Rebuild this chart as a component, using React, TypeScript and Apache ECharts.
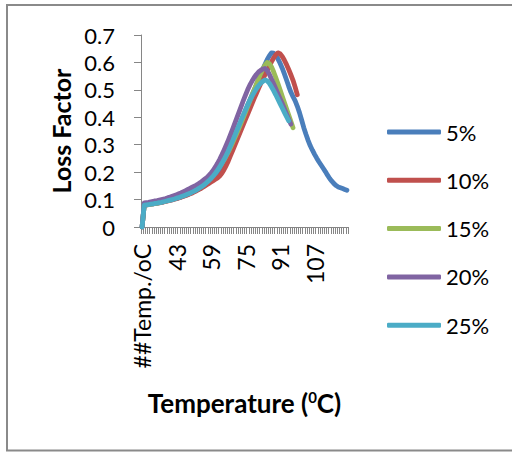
import React, { useEffect, useRef } from "react";
import * as echarts from "echarts";

const categories = [
  "##Temp./oC",
  "28", "29", "30", "31", "32", "33", "34", "35", "36", "37",
  "38", "39", "40", "41", "42", "43", "44", "45", "46", "47",
  "48", "49", "50", "51", "52", "53", "54", "55", "56", "57",
  "58", "59", "60", "61", "62", "63", "64", "65", "66", "67",
  "68", "69", "70", "71", "72", "73", "74", "75", "76", "77",
  "78", "79", "80", "81", "82", "83", "84", "85", "86", "87",
  "88", "89", "90", "91", "92", "93", "94", "95", "96", "97",
  "98", "99", "100", "101", "102", "103", "104", "105", "106", "107",
  "108", "109", "110", "111", "112", "113", "114", "115", "116", "117",
  "118", "119", "120", "121", "122",
];

const yTicks = [0, 0.1, 0.2, 0.3, 0.4, 0.5, 0.6, 0.7];

const legendNames = ["5%", "10%", "15%", "20%", "25%"];

const s5 = [
  0,
  0.080, 0.081, 0.082, 0.083, 0.084, 0.086, 0.087, 0.089, 0.090, 0.092,
  0.094, 0.096, 0.098, 0.100, 0.102, 0.104, 0.107, 0.109, 0.112, 0.115,
  0.118, 0.121, 0.125, 0.129, 0.133, 0.137, 0.142, 0.147, 0.152, 0.158,
  0.165, 0.172, 0.180, 0.189, 0.199, 0.210, 0.222, 0.235, 0.249, 0.264,
  0.295, 0.313, 0.332, 0.351, 0.370, 0.389, 0.408, 0.427, 0.446, 0.464,
  0.482, 0.500, 0.518, 0.537, 0.556, 0.575, 0.593, 0.610, 0.624, 0.635,
  0.634, 0.626, 0.613, 0.597, 0.579, 0.558, 0.536, 0.513, 0.492, 0.475,
  0.460, 0.440, 0.417, 0.390, 0.362, 0.338, 0.316, 0.296, 0.280, 0.265,
  0.251, 0.238, 0.226, 0.214, 0.202, 0.189, 0.177, 0.167, 0.158, 0.151,
  0.146, 0.143, 0.140, 0.137, 0.134,
];

const s10 = [
  0,
  0.080, 0.081, 0.082, 0.083, 0.084, 0.085, 0.087, 0.088, 0.090, 0.091,
  0.093, 0.095, 0.097, 0.099, 0.101, 0.103, 0.106, 0.108, 0.111, 0.114,
  0.117, 0.120, 0.123, 0.127, 0.131, 0.135, 0.139, 0.144, 0.149, 0.154,
  0.159, 0.164, 0.169, 0.174, 0.179, 0.186, 0.196, 0.209, 0.224, 0.241,
  0.260, 0.279, 0.298, 0.317, 0.336, 0.355, 0.374, 0.393, 0.412, 0.431,
  0.450, 0.469, 0.487, 0.505, 0.522, 0.539, 0.555, 0.571, 0.587, 0.602,
  0.616, 0.628, 0.635, 0.632, 0.622, 0.608, 0.592, 0.574, 0.555, 0.535,
  0.510, 0.482,
];

const s15 = [
  0,
  0.080, 0.081, 0.082, 0.083, 0.084, 0.086, 0.087, 0.089, 0.091, 0.093,
  0.095, 0.097, 0.099, 0.102, 0.104, 0.107, 0.110, 0.113, 0.116, 0.119,
  0.123, 0.127, 0.131, 0.135, 0.139, 0.144, 0.149, 0.155, 0.161, 0.167,
  0.174, 0.182, 0.190, 0.199, 0.209, 0.220, 0.232, 0.245, 0.259, 0.274,
  0.290, 0.307, 0.325, 0.343, 0.362, 0.381, 0.400, 0.420, 0.440, 0.460,
  0.480, 0.500, 0.520, 0.540, 0.559, 0.576, 0.590, 0.600,
  0.596, 0.584, 0.566, 0.545, 0.523, 0.500, 0.477, 0.454, 0.431, 0.408,
  0.385, 0.362,
];

const s20 = [
  0,
  0.088, 0.089, 0.090, 0.092, 0.093, 0.095, 0.096, 0.098, 0.100, 0.102,
  0.104, 0.107, 0.109, 0.112, 0.115, 0.118, 0.121, 0.124, 0.128, 0.132,
  0.136, 0.140, 0.144, 0.148, 0.152, 0.157, 0.162, 0.168, 0.174, 0.180,
  0.188, 0.197, 0.207, 0.219, 0.232, 0.247, 0.263, 0.280, 0.298, 0.317,
  0.337, 0.357, 0.378, 0.399, 0.420, 0.441, 0.462, 0.482, 0.501, 0.518,
  0.532, 0.545, 0.556, 0.565, 0.571, 0.576, 0.578,
  0.571, 0.557, 0.540, 0.522, 0.504, 0.486, 0.468, 0.450, 0.431, 0.412,
  0.393, 0.375,
];

const s25 = [
  0,
  0.080, 0.081, 0.082, 0.083, 0.084, 0.086, 0.087, 0.089, 0.090, 0.092,
  0.094, 0.096, 0.098, 0.100, 0.102, 0.105, 0.107, 0.110, 0.113, 0.116,
  0.119, 0.122, 0.126, 0.130, 0.134, 0.139, 0.144, 0.149, 0.155, 0.162,
  0.169, 0.177, 0.186, 0.196, 0.207, 0.219, 0.232, 0.246, 0.261, 0.277,
  0.296, 0.314, 0.333, 0.352, 0.371, 0.390, 0.409, 0.427, 0.445, 0.462,
  0.477, 0.491, 0.504, 0.515, 0.524, 0.531, 0.536,
  0.533, 0.524, 0.511, 0.497, 0.482, 0.466, 0.450, 0.434, 0.418, 0.402,
  0.387,
];

const seriesData = [s5, s10, s15, s20, s25];
const colors = ["#4A7EBB", "#C0504D", "#9BBB59", "#8064A2", "#4BACC6"];

const FONT = "Lato";

export default function App() {
  const ref = useRef<HTMLDivElement>(null);
  useEffect(() => {
    if (!ref.current) return;
    const chart = echarts.init(ref.current, undefined, { renderer: "svg" });
    chart.setOption({
      animation: false,
      color: colors,
      graphic: [
        {
          type: "rect",
          shape: { x: 7, y: 5, width: 530, height: 445.5 },
          style: { fill: "none", stroke: "#8a8a8a", lineWidth: 2 },
          silent: true,
        },
      ],
      grid: { left: 141, top: 35, width: 207, height: 192, containLabel: false },
      legend: {
        orient: "vertical",
        left: 387,
        top: 120,
        padding: 0,
        itemWidth: 54,
        itemHeight: 5,
        itemGap: 24.3,
        icon: "roundRect",
        data: legendNames,
        textStyle: { fontFamily: FONT, fontSize: 22, color: "#000", lineHeight: 24 },
      },
      xAxis: {
        type: "category",
        data: categories,
        boundaryGap: true,
        name: "{a|Temperature (}{b|0}{a|C)}",
        nameLocation: "middle",
        nameGap: 162,
        nameTextStyle: {
          rich: {
            a: { fontFamily: FONT, fontSize: 26, fontWeight: "bold", color: "#000", lineHeight: 28 },
            b: { fontFamily: FONT, fontSize: 15, fontWeight: "bold", color: "#000", verticalAlign: "top", lineHeight: 15 },
          },
        },
        axisLine: { lineStyle: { color: "#868686", width: 1 } },
        axisTick: { show: true, interval: 0, length: 7, alignWithLabel: false, lineStyle: { color: "#868686" } },
        axisLabel: {
          interval: 15,
          rotate: 90,
          margin: 17,
          fontFamily: FONT,
          fontSize: 23,
          color: "#000",
        },
        splitLine: { show: false },
      },
      yAxis: {
        type: "value",
        min: yTicks[0],
        max: yTicks[yTicks.length - 1],
        interval: 0.1,
        name: "Loss Factor",
        nameLocation: "middle",
        nameGap: 68,
        nameTextStyle: { fontFamily: FONT, fontSize: 25, fontWeight: "bold", color: "#000" },
        axisLine: { show: true, lineStyle: { color: "#868686", width: 1 } },
        axisTick: { show: true, length: 7, lineStyle: { color: "#868686" } },
        axisLabel: {
          margin: 26,
          fontFamily: FONT,
          fontSize: 22,
          color: "#000",
          formatter: (v: number) => String(Math.round(v * 10) / 10),
        },
        splitLine: { show: false },
      },
      series: seriesData.map((d, i) => ({
        name: legendNames[i],
        type: "line",
        data: d,
        showSymbol: false,
        symbol: "none",
        smooth: false,
        lineStyle: { width: 4.8, color: colors[i], cap: "round", join: "round" },
        itemStyle: { color: colors[i] },
        z: 2 + i,
      })),
    });
    return () => chart.dispose();
  }, []);
  return (
    <div
      ref={ref}
      style={{ position: "absolute", left: 0, top: 0, width: 512, height: 452, background: "#fff" }}
    />
  );
}
